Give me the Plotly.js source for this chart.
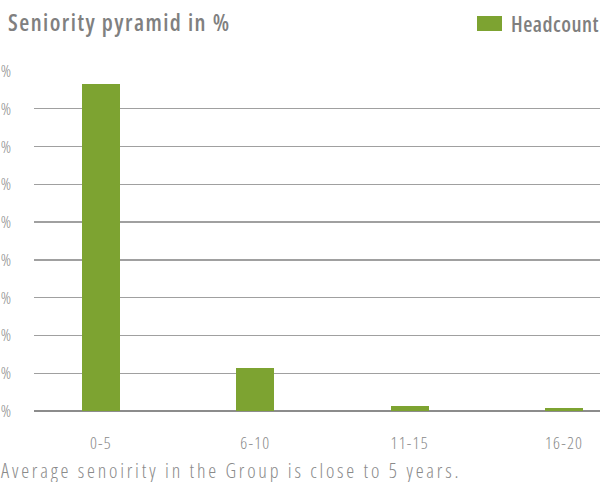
<!DOCTYPE html>
<html>
<head>
<meta charset="utf-8">
<script src="https://cdn.plot.ly/plotly-3.0.1.min.js"></script>
<style>
  html, body { margin: 0; padding: 0; background: #fff; }
  #chart { width: 600px; height: 482px; }
  /* condensed face for every label, including Plotly's text-measuring node */
  svg text { font-stretch: 75%; }
  svg text.gtitle { letter-spacing: 1.45px; }
  svg text[data-unformatted="Headcount"] { letter-spacing: 0.5px; }
  #chart .xtick text { letter-spacing: 1.2px; }
</style>
</head>
<body>
<div id="chart"></div>
<script>
// Seniority bands (years) and the share of headcount in each
const categories = ["0-5", "6-10", "11-15", "16-20"];
const headcountPct = [86.6, 11.3, 1.2, 0.9];
const yTicks = [0, 10, 20, 30, 40, 50, 60, 70, 80, 90];
const yTickLabels = yTicks.map(v => v + " %");

const FONT = '"Open Sans", "DejaVu Sans Condensed", sans-serif';
const GREY = "#8a8a8a";
const GREEN = "#7da331";

const trace = {
  type: "bar",
  x: [0, 1, 2, 3],
  y: headcountPct,
  name: "Headcount",
  marker: { color: GREEN },
  width: 0.246,
  hoverinfo: "skip",
  showlegend: false
};

const layout = {
  width: 600,
  height: 482,
  margin: { l: 34, r: 0, t: 71, b: 71, pad: 0 },
  paper_bgcolor: "#ffffff",
  plot_bgcolor: "#ffffff",
  font: { family: FONT, color: GREY },
  title: {
    text: "Seniority pyramid in %",
    font: { family: FONT, size: 23, color: "#808080", weight: 600 },
    xref: "container", yref: "container",
    x: 8 / 600, xanchor: "left",
    y: 1 - 23 / 482, yanchor: "middle"
  },
  xaxis: {
    range: [-0.434, 3.233],
    tickvals: [0, 1, 2, 3],
    ticktext: categories,
    showgrid: false,
    zeroline: false,
    showline: false,
    ticks: "",
    ticklabelstandoff: 20,
    tickfont: { family: FONT, size: 17, color: GREY, weight: 300 },
    fixedrange: true
  },
  yaxis: {
    range: [0, 90],
    tickvals: yTicks,
    ticktext: yTickLabels,
    showgrid: true,
    gridcolor: "#a0a0a0",
    gridwidth: 1.3,
    zeroline: true,
    zerolinecolor: "#8c8c8c",
    zerolinewidth: 2,
    showline: false,
    ticks: "",
    ticklabelstandoff: 22,
    tickfont: { family: FONT, size: 17, color: GREY, weight: 300 },
    fixedrange: true
  },
  shapes: [
    {
      type: "rect", xref: "paper", yref: "paper",
      x0: (477 - 34) / 566, x1: (502 - 34) / 566,
      y0: (411 - 31) / 340, y1: (411 - 16) / 340,
      fillcolor: GREEN, line: { width: 0 }
    }
  ],
  annotations: [
    {
      text: "Headcount",
      xref: "paper", yref: "paper",
      x: (601 - 34) / 566, xanchor: "right",
      y: (411 - 24) / 340, yanchor: "middle",
      showarrow: false,
      font: { family: FONT, size: 21, color: "#7f7f7f", weight: 600 }
    },
    {
      text: '<span style="letter-spacing:2.8px">Average senoirity in the Group is close to 5 years.</span>',
      xref: "paper", yref: "paper",
      x: (-1 - 34) / 566, xanchor: "left",
      y: (411 - 470) / 340, yanchor: "middle",
      showarrow: false,
      font: { family: FONT, size: 20, color: GREY, weight: 300 }
    }
  ],
  showlegend: false,
  bargap: 0
};

Plotly.newPlot("chart", [trace], layout, { displayModeBar: false, staticPlot: true });
</script>
</body>
</html>
